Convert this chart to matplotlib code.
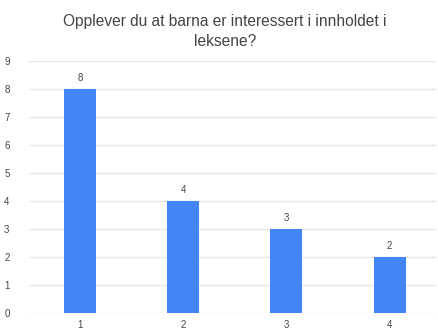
import matplotlib
matplotlib.use("Agg")
import matplotlib.pyplot as plt

# answers on the 1-4 scale and how many picked each
categories = ["1", "2", "3", "4"]
counts = [8, 4, 3, 2]
y_ticks = list(range(0, 10))

TITLE = "Opplever du at barna er interessert i innholdet i\nleksene?"
BLUE = "#4285f4"
TEXT = "#444444"

plt.rcParams["font.family"] = ["Liberation Sans", "DejaVu Sans"]

fig = plt.figure(figsize=(4.38, 3.30), dpi=100)
ax = fig.add_axes([29 / 438, 17 / 330, 407 / 438, 252 / 330])

x = range(len(categories))
bars = ax.bar(x, counts, width=0.31, color=BLUE, zorder=3)
ax.bar_label(bars, labels=[str(c) for c in counts], padding=4,
             fontsize=7, color=TEXT)

ax.set_xlim(-0.494, 3.45)
ax.set_ylim(0, 9)
ax.set_yticks(y_ticks)
ax.set_xticks(list(x))
ax.set_xticklabels(categories)
ax.tick_params(axis="both", length=0, labelsize=7, labelcolor=TEXT)
ax.tick_params(axis="y", pad=14)
ax.tick_params(axis="x", pad=5)
ax.grid(axis="y", color="#e6e6e6", lw=1.0, zorder=0)
for s in ax.spines.values():
    s.set_visible(False)

fig.text(225 / 438, 1 - 14 / 330, TITLE, ha="center", va="top",
         fontsize=11.2, color=TEXT, linespacing=1.38)

fig.savefig("out.png", dpi=100)
